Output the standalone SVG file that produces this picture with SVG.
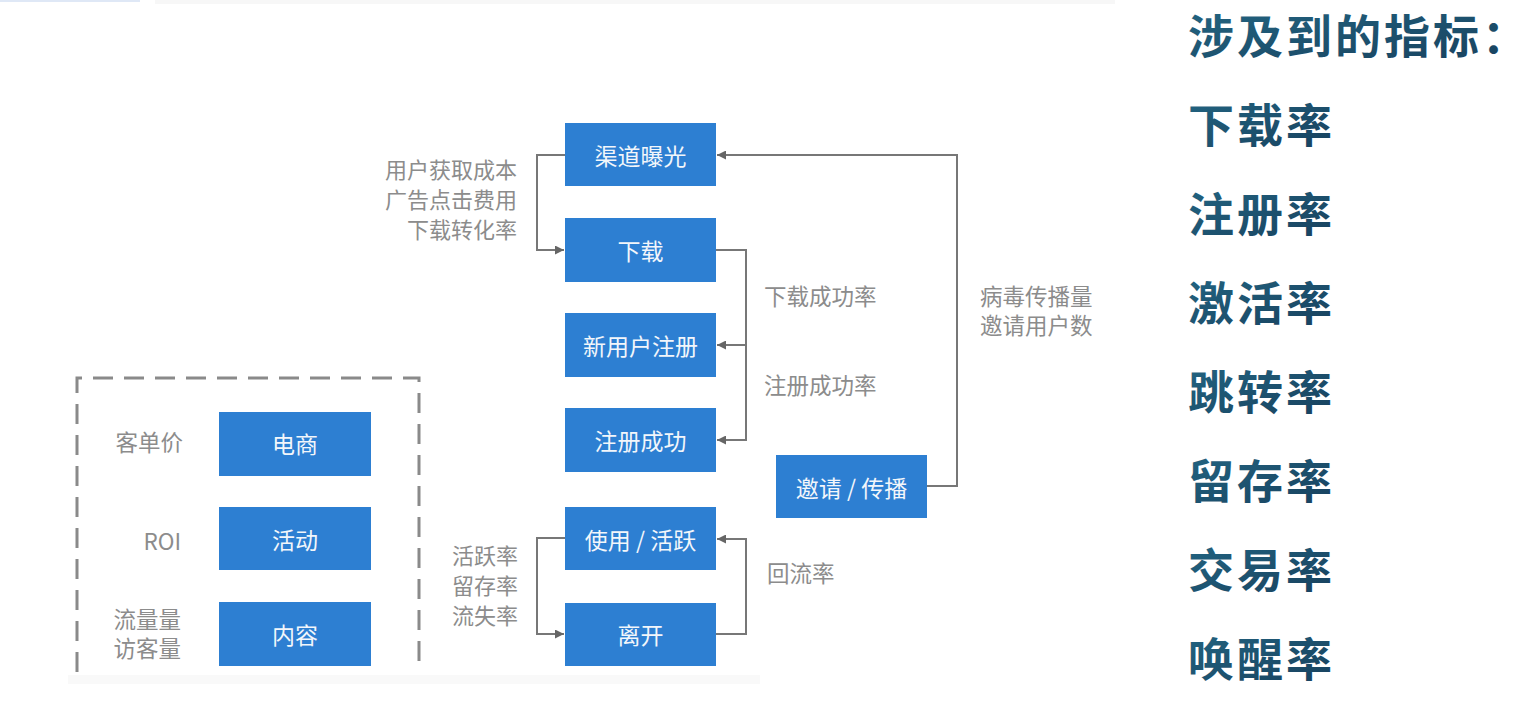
<svg xmlns="http://www.w3.org/2000/svg" width="1536" height="706" viewBox="0 0 1536 706">
<style>
  .box { fill: #2d7fd2; }
  .bt { fill: #f2f6fb; font-family: "Noto Sans CJK SC", "Noto Sans", sans-serif; font-size: 23px; text-anchor: middle; dominant-baseline: central; }
  .lb { fill: #8c8c8c; font-family: "Noto Sans CJK SC", "Noto Sans", sans-serif; font-size: 22.5px; dominant-baseline: central; }
  .sm { font-size: 22px; }
  .end { text-anchor: end; }
  .conn { fill: none; stroke: #777; stroke-width: 2; }
  .rt { font-family: "Noto Sans CJK SC", sans-serif; font-size: 46px; font-weight: 700; letter-spacing: 3px; dominant-baseline: central; fill: url(#tg); }
</style>
<defs>
  <marker id="ah" viewBox="0 0 10 10" refX="10" refY="5" markerWidth="9" markerHeight="9" markerUnits="userSpaceOnUse" orient="auto">
    <path d="M0,0 L10,5 L0,10 z" fill="#666"/>
  </marker>
  <linearGradient id="tg" x1="0" y1="0" x2="1" y2="1">
    <stop offset="0" stop-color="#236683"/>
    <stop offset="1" stop-color="#173f5c"/>
  </linearGradient>
</defs>
<rect x="0" y="0" width="1536" height="706" fill="#ffffff"/>
<rect x="0" y="0" width="140" height="2" fill="#dfe8f6"/>
<rect x="155" y="0" width="960" height="4" fill="#f7f7f7"/>
<rect x="68" y="675" width="692" height="9" fill="#f9f9f9"/>

<g id="connectors">
  <path class="conn" d="M565,155 H537 V250 H564" marker-end="url(#ah)"/>
  <path class="conn" d="M716,250 H746 V440 H717" marker-end="url(#ah)"/>
  <path class="conn" d="M746,345 H717" marker-end="url(#ah)"/>
  <path class="conn" d="M927,486 H957 V155 H717" marker-end="url(#ah)"/>
  <path class="conn" d="M565,538 H537 V634 H564" marker-end="url(#ah)"/>
  <path class="conn" d="M716,634 H746 V539 H717" marker-end="url(#ah)"/>
</g>

<g id="dashed-group">
  <path d="M77,672 V378 H419 V672" fill="none" stroke="#8a8a8a" stroke-width="3" stroke-dasharray="20 11"/>
</g>

<g id="n-qudao"><rect class="box" x="565" y="123" width="151" height="63"/><text class="bt" x="640.5" y="155">渠道曝光</text></g>
<g id="n-xiazai"><rect class="box" x="565" y="218" width="151" height="64"/><text class="bt" x="640.5" y="250">下载</text></g>
<g id="n-zhuce"><rect class="box" x="565" y="313" width="151" height="64"/><text class="bt" x="640.5" y="345">新用户注册</text></g>
<g id="n-chenggong"><rect class="box" x="565" y="408" width="151" height="64"/><text class="bt" x="640.5" y="440">注册成功</text></g>
<g id="n-yaoqing"><rect class="box" x="776" y="455" width="151" height="63"/><text class="bt" x="851.5" y="487">邀请 / 传播</text></g>
<g id="n-shiyong"><rect class="box" x="565" y="507" width="151" height="63"/><text class="bt" x="640.5" y="539">使用 / 活跃</text></g>
<g id="n-likai"><rect class="box" x="565" y="603" width="151" height="63"/><text class="bt" x="640.5" y="634">离开</text></g>
<g id="n-dianshang"><rect class="box" x="219" y="412" width="152" height="64"/><text class="bt" x="295" y="443">电商</text></g>
<g id="n-huodong"><rect class="box" x="219" y="507" width="152" height="63"/><text class="bt" x="295" y="539">活动</text></g>
<g id="n-neirong"><rect class="box" x="219" y="602" width="152" height="64"/><text class="bt" x="295" y="634">内容</text></g>

<g id="labels">
  <text class="lb sm end" x="517" y="168">用户获取成本</text>
  <text class="lb sm end" x="517" y="198">广告点击费用</text>
  <text class="lb sm end" x="517" y="228">下载转化率</text>
  <text class="lb" x="764" y="295">下载成功率</text>
  <text class="lb" x="764" y="384">注册成功率</text>
  <text class="lb" x="980" y="295">病毒传播量</text>
  <text class="lb" x="980" y="324">邀请用户数</text>
  <text class="lb" x="767" y="572">回流率</text>
  <text class="lb sm end" x="518" y="554">活跃率</text>
  <text class="lb sm end" x="518" y="584">留存率</text>
  <text class="lb sm end" x="518" y="614">流失率</text>
  <text class="lb end" x="183" y="441">客单价</text>
  <text class="lb end" x="181" y="540">ROI</text>
  <text class="lb end" x="181" y="618">流量量</text>
  <text class="lb end" x="181" y="647">访客量</text>
</g>

<g id="metrics">
  <text class="rt" x="1188" y="33">涉及到的指标：</text>
  <text class="rt" x="1188" y="122">下载率</text>
  <text class="rt" x="1188" y="211">注册率</text>
  <text class="rt" x="1188" y="300">激活率</text>
  <text class="rt" x="1188" y="389">跳转率</text>
  <text class="rt" x="1188" y="478">留存率</text>
  <text class="rt" x="1188" y="567">交易率</text>
  <text class="rt" x="1188" y="656">唤醒率</text>
</g>
</svg>
